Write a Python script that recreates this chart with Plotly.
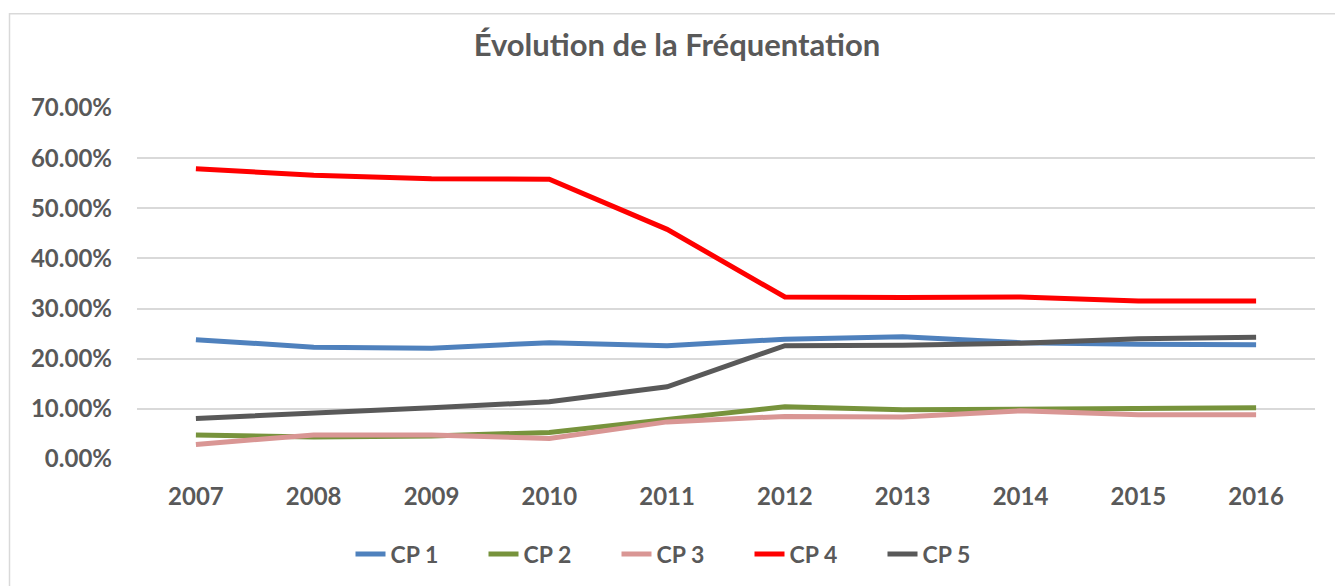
import plotly.graph_objects as go

# Years on the category axis
years = ["2007", "2008", "2009", "2010", "2011", "2012", "2013", "2014", "2015", "2016"]

# Share of attendance per group (fractions)
cp1 = [0.238, 0.223, 0.221, 0.232, 0.226, 0.239, 0.244, 0.232, 0.229, 0.228]
cp2 = [0.048, 0.044, 0.046, 0.053, 0.079, 0.104, 0.098, 0.099, 0.101, 0.102]
cp3 = [0.029, 0.048, 0.048, 0.041, 0.074, 0.085, 0.084, 0.096, 0.088, 0.088]
cp4 = [0.579, 0.566, 0.559, 0.558, 0.458, 0.323, 0.322, 0.323, 0.315, 0.315]
cp5 = [0.081, 0.091, 0.102, 0.114, 0.144, 0.226, 0.227, 0.231, 0.240, 0.243]

series_names = ["CP 1", "CP 2", "CP 3", "CP 4", "CP 5"]
series_values = [cp1, cp2, cp3, cp4, cp5]
series_colors = ["#4F81BD", "#77933C", "#D99694", "#FF0000", "#595959"]

TEXT = "#595959"
GRID = "#D9D9D9"
FONT = "Lato"

fig = go.Figure()
for name, vals, col in zip(series_names, series_values, series_colors):
    fig.add_trace(go.Scatter(
        x=years, y=vals, name=name, mode="lines",
        line=dict(color=col, width=5),
        hovertemplate="%{x}: %{y:.2%}<extra>" + name + "</extra>",
    ))

W, H = 1335, 586
L, R, T, B = 137, 20, 108, 126
pw, ph = W - L - R, H - T - B

def px_x(x):
    return (x - L) / pw

def px_y(y):
    return (H - B - y) / ph

fig.update_layout(
    width=W, height=H,
    margin=dict(l=L, r=R, t=T, b=B),
    paper_bgcolor="white",
    plot_bgcolor="white",
    font=dict(family=FONT, color=TEXT, size=24, weight="bold"),
    title=dict(
        text="Évolution de la Fréquentation",
        x=677 / W, xanchor="center",
        y=1 - 45 / H, yanchor="middle", yref="container",
        font=dict(family=FONT, size=31, color=TEXT, weight="bold"),
    ),
    xaxis=dict(
        type="category",
        range=[-0.5, len(years) - 0.5],
        showgrid=False, zeroline=False, showline=False,
        ticks="",
        tickfont=dict(family=FONT, size=24, color=TEXT, weight="bold"),
        ticklabelstandoff=21,
    ),
    yaxis=dict(
        range=[0, 0.7], dtick=0.1, tick0=0,
        tickformat=".2%",
        showgrid=True, gridcolor=GRID, gridwidth=1.5,
        zeroline=False, showline=False, ticks="",
        tickfont=dict(family=FONT, size=24, color=TEXT, weight="bold"),
        ticklabelstandoff=24,
    ),
    legend=dict(
        orientation="h",
        x=px_x(683), xanchor="center",
        y=px_y(554), yanchor="middle",
        entrywidth=88, entrywidthmode="pixels",
        font=dict(family=FONT, size=23, color=TEXT, weight="bold"),
        bgcolor="rgba(0,0,0,0)",
    ),
    showlegend=True,
)

# Chart frame
fig.add_shape(
    type="rect", xref="paper", yref="paper",
    x0=px_x(9.5), x1=px_x(1345), y0=px_y(600), y1=px_y(13.5),
    line=dict(color=GRID, width=1.5), fillcolor="rgba(0,0,0,0)",
    layer="below",
)

fig.write_html("out.html")
